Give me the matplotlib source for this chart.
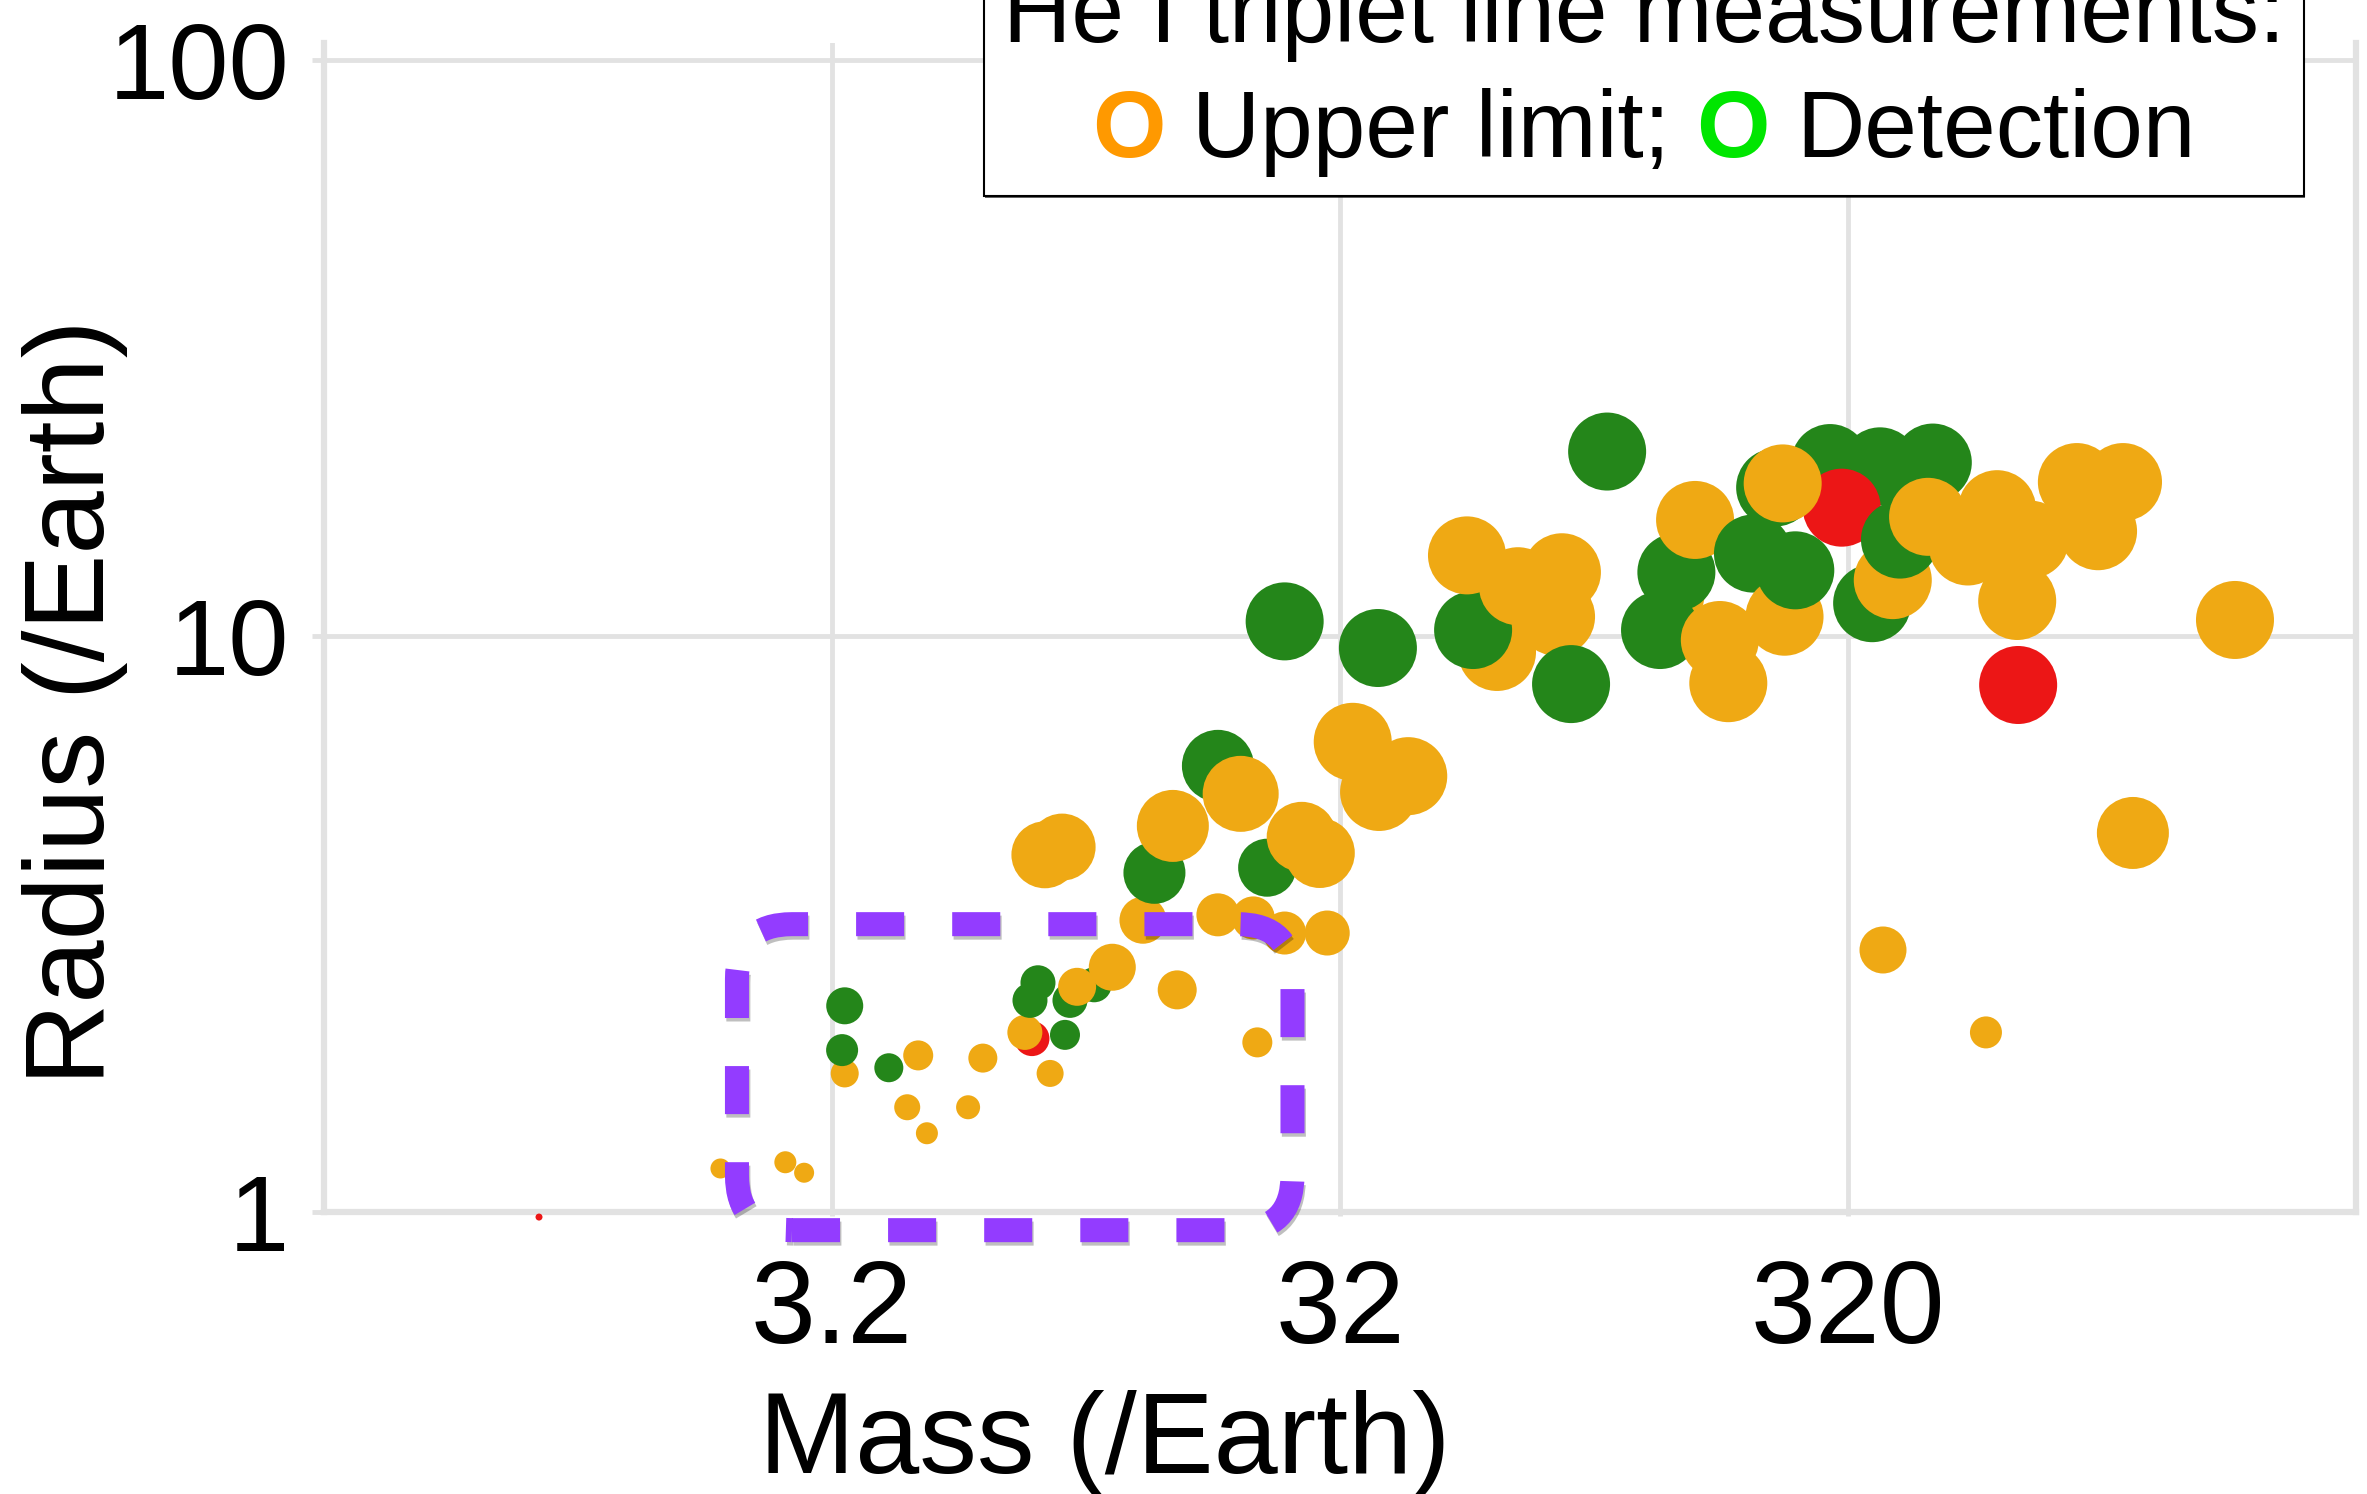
import matplotlib
matplotlib.use('Agg')
import matplotlib.pyplot as plt
import matplotlib.patheffects as pe
from matplotlib.patches import FancyBboxPatch
from matplotlib.transforms import IdentityTransform
from matplotlib.offsetbox import TextArea, HPacker, VPacker, AnchoredOffsetbox

plt.rcParams['font.family'] = ['Liberation Sans', 'DejaVu Sans']

# --- Data: planets, mass and radius in Earth units (listed in drawing order) ---
# status: 'U' = He I upper limit, 'D' = detection, 'R' = red points
mass = [0.848, 1.93, 2.59, 2.82, 3.39, 3.35, 3.39, 4.14, 4.50, 4.92,
        5.93, 4.73, 6.34, 8.6, 7.92, 7.67, 9.2, 7.85, 9.41, 10.5,
        8.14, 9.72, 11.4, 15.3, 22.0, 24.9, 18.4, 21.6, 30.2, 13.1,
        9.08, 8.4, 13.8, 15.0, 23.0, 29.2, 26.9, 18.4, 20.4, 33.9,
        43.6, 38.2, 24.9, 38.0, 65.2, 58.5, 71.7, 85.2, 91.2, 87.5,
        56.9, 107.4, 149, 147, 136.5, 160, 186, 179, 208, 240,
        252, 230, 295, 370, 470, 311, 238, 357, 392, 405,
        460, 629, 551, 730, 689, 692, 1113, 903, 994, 1849,
        1164, 375, 598]
radius = [0.98, 1.19, 1.22, 1.17, 1.74, 1.91, 2.28, 1.78, 1.52, 1.37,
          1.52, 1.87, 1.85, 1.74, 2.0, 2.05, 2.03, 2.33, 2.33, 2.48,
          2.50, 2.46, 2.66, 2.43, 1.97, 3.05, 3.28, 3.24, 3.05, 3.21,
          4.30, 4.17, 3.88, 4.68, 3.96, 4.2, 4.48, 5.95, 5.32, 6.55,
          5.71, 5.36, 10.6, 9.53, 9.38, 10.24, 12.2, 10.8, 8.25, 12.9,
          13.8, 20.9, 11.7, 12.9, 10.24, 15.9, 8.28, 9.84, 13.9, 10.8,
          13.0, 18.1, 19.96, 19.7, 20.0, 16.7, 18.4, 11.4, 12.5, 14.7,
          16.1, 16.6, 14.3, 14.7, 11.5, 8.22, 18.5, 18.5, 15.2, 10.66,
          4.55, 2.85, 2.05]
status = ['R', 'U', 'U', 'U', 'U', 'D', 'D', 'D', 'U', 'U',
          'U', 'U', 'U', 'U', 'R', 'U', 'D', 'D', 'D', 'D',
          'D', 'U', 'U', 'U', 'U', 'U', 'U', 'U', 'U', 'U',
          'U', 'U', 'D', 'U', 'D', 'U', 'U', 'D', 'U', 'U',
          'U', 'U', 'D', 'D', 'U', 'D', 'U', 'U', 'D', 'U',
          'U', 'D', 'U', 'D', 'D', 'U', 'U', 'U', 'D', 'U',
          'D', 'D', 'D', 'D', 'D', 'R', 'U', 'D', 'U', 'D',
          'U', 'U', 'U', 'U', 'U', 'R', 'U', 'U', 'U', 'U',
          'U', 'U', 'U']
# bubble diameter (pixels)
bubble = [7, 20, 22, 20, 28, 32, 37, 29, 26, 22,
          24, 30, 29, 27, 35, 35, 30, 35, 35, 35,
          35, 38, 47, 39, 30, 43, 43, 43, 45, 47,
          67, 67, 62, 72, 58, 70, 70, 72, 76, 78,
          78, 78, 78, 78, 78, 78, 78, 78, 78, 78,
          78, 78, 50, 78, 78, 78, 78, 78, 78, 78,
          78, 78, 78, 78, 78, 78, 78, 78, 78, 78,
          78, 78, 78, 78, 78, 78, 78, 78, 78, 78,
          72, 47, 32]

x_ticks = [3.2, 32, 320]
x_tick_labels = ['3.2', '32', '320']
y_ticks = [1, 10, 100]
y_tick_labels = ['1', '10', '100']

# highlighted region (mass, radius)
box_lo = (2.08, 0.93)
box_hi = (25.8, 3.16)

colors = {'U': '#efa914', 'D': '#24861a', 'R': '#ec1616'}
grid_c = '#e2e2e2'

W, H = 2367, 1494
fig = plt.figure(figsize=(W / 100, H / 100), dpi=100)
ax = fig.add_axes([324 / W, 282 / H, 2032 / W, 1169 / H])
ax.set_xscale('log')
ax.set_yscale('log')
ax.set_xlim(0.32, 3200)
ax.set_ylim(1, 107)

ax.scatter(mass, radius, s=[(d * 0.72) ** 2 for d in bubble],
           c=[colors[k] for k in status], linewidths=0, zorder=3, clip_on=False)

ax.minorticks_off()
ax.set_xticks(x_ticks)
ax.set_xticklabels(x_tick_labels)
ax.set_yticks(y_ticks)
ax.set_yticklabels(y_tick_labels)
ax.grid(True, color=grid_c, linewidth=3.5)
ax.set_axisbelow(True)
for side in ['left', 'right', 'bottom']:
    ax.spines[side].set_color(grid_c)
    ax.spines[side].set_linewidth(4.5)
ax.spines['top'].set_visible(False)
ax.tick_params(axis='y', length=9, width=3.5, color=grid_c, pad=16, labelsize=78)
ax.tick_params(axis='x', length=3, width=3.5, color=grid_c, pad=30, labelsize=84)

ax.set_xlabel('Mass (/Earth)', fontsize=83)
ax.xaxis.set_label_coords(0.384, -0.152)
ax.set_ylabel('Radius (/Earth)', fontsize=82)
ax.yaxis.set_label_coords(-0.0965, 0.436)

# --- legend-like box at the top ---
fs = 68
line1 = TextArea('He I triplet line measurements:', textprops=dict(size=fs, color='black'))
parts = [TextArea('O', textprops=dict(size=fs, color='#ff9900', weight='bold')),
         TextArea('Upper limit;', textprops=dict(size=fs, color='black')),
         TextArea('O', textprops=dict(size=fs, color='#00e600', weight='bold')),
         TextArea('Detection', textprops=dict(size=fs, color='black'))]
line2 = HPacker(children=parts, align='baseline', pad=0, sep=19)
block = VPacker(children=[line1, line2], align='center', pad=0, sep=19)
leg = AnchoredOffsetbox(loc='lower center', child=block, pad=0.2, borderpad=0,
                        frameon=True, prop=dict(size=fs),
                        bbox_to_anchor=(1644 / W, 1 - 196 / H),
                        bbox_transform=fig.transFigure)
leg.patch.set_edgecolor('black')
leg.patch.set_linewidth(1.5)
leg.patch.set_path_effects([pe.withSimplePatchShadow(offset=(1, -1.5), shadow_rgbFace='k', alpha=0.6)])
leg.set_zorder(6)
fig.add_artist(leg)

# --- dashed rounded rectangle around the small planets ---
x0, y0 = ax.transData.transform(box_lo)
x1, y1 = ax.transData.transform(box_hi)
frame = FancyBboxPatch((x0, y0), x1 - x0, y1 - y0,
                       boxstyle='round,pad=0,rounding_size=55',
                       transform=IdentityTransform(), fill=False,
                       edgecolor='#933cff', linewidth=17.3, linestyle=(0, (2, 2)),
                       path_effects=[pe.SimpleLineShadow(offset=(1, -2.5), shadow_color='k', alpha=0.25),
                                     pe.Normal()],
                       zorder=5)
fig.add_artist(frame)

fig.savefig('out.png', dpi=100, facecolor='white')
